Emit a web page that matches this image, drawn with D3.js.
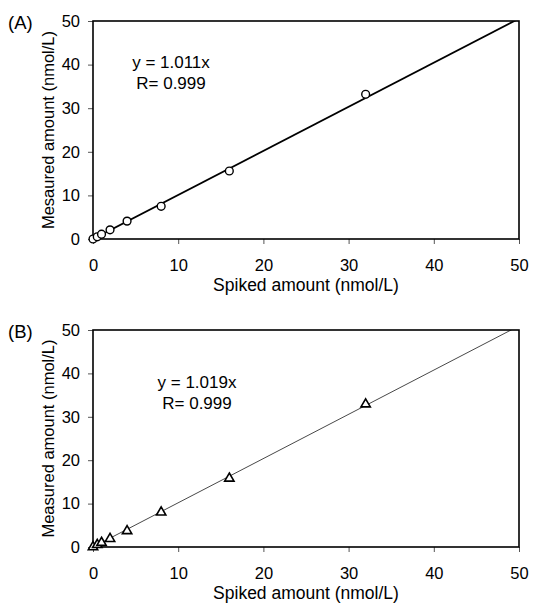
<!DOCTYPE html>
<html><head><meta charset="utf-8">
<script src="https://cdn.jsdelivr.net/npm/d3@7"></script>
<style>body{margin:0;background:#fff}svg{display:block}text{font-family:"Liberation Sans",Arial,sans-serif;fill:#000}</style>
</head><body><div id="chart"></div>
<script>
const spiked = [0, 0.5, 1, 2, 4, 8, 16, 32];
const measuredA = [0, 0.5, 1.1, 2.1, 4.1, 7.5, 15.6, 33.2];
const measuredB = [0, 0.5, 1.0, 1.9, 3.7, 8.0, 15.8, 32.9];
const slopes = [1.011, 1.019];
const eqLabels = [["y = 1.011x", "R= 0.999"], ["y = 1.019x", "R= 0.999"]];
const panelLabels = ["(A)", "(B)"];
const yTitles = ["Mesaured amount (nmol/L)", "Measured amount (nmol/L)"];
const xTitle = "Spiked amount (nmol/L)";
const ticks = [0, 10, 20, 30, 40, 50];

const W = 536, H = 609;
const svg = d3.select("#chart").append("svg").attr("width", W).attr("height", H);

const panels = [
  {top: 21, bottom: 239, data: measuredA, marker: "circle", lw: 1.8, lc: "#000", eqX: 171, eqY: 62},
  {top: 330, bottom: 547, data: measuredB, marker: "triangle", lw: 0.9, lc: "#333", eqX: 197, eqY: 382}
];
const left = 93, right = 519;

panels.forEach((p, i) => {
  const x = d3.scaleLinear().domain([0, 50]).range([left, right]);
  const y = d3.scaleLinear().domain([0, 50]).range([p.bottom, p.top]);
  const g = svg.append("g");
  const clipId = "clip" + i;
  svg.append("clipPath").attr("id", clipId).append("rect")
    .attr("x", left).attr("y", p.top).attr("width", right - left).attr("height", p.bottom - p.top);

  const xa = g.append("g").attr("transform", `translate(0,${p.bottom})`)
    .call(d3.axisBottom(x).tickValues(ticks).tickSize(5).tickPadding(15).tickFormat(d3.format("d")));
  const ya = g.append("g").attr("transform", `translate(${left},0)`)
    .call(d3.axisLeft(y).tickValues(ticks).tickSize(5).tickPadding(8).tickFormat(d3.format("d")));
  [xa, ya].forEach(a => {
    a.select(".domain").remove();
    a.selectAll(".tick line").attr("stroke", "#555").attr("stroke-width", 1);
    a.selectAll("text").attr("font-size", 16.5).attr("font-family", '"Liberation Sans",Arial,sans-serif').attr("fill", "#000");
  });

  // regression line
  g.append("line").attr("clip-path", `url(#${clipId})`)
    .attr("x1", x(0)).attr("y1", y(0)).attr("x2", x(50)).attr("y2", y(50 * slopes[i]))
    .attr("stroke", p.lc).attr("stroke-width", p.lw);

  // frame
  g.append("rect").attr("x", left).attr("y", p.top).attr("width", right - left).attr("height", p.bottom - p.top)
    .attr("fill", "none").attr("stroke", "#000").attr("stroke-width", 1.6);

  // markers
  const pts = spiked.map((s, k) => [s, p.data[k]]);
  if (p.marker === "circle") {
    g.selectAll("circle.pt").data(pts).enter().append("circle")
      .attr("cx", d => x(d[0])).attr("cy", d => y(d[1])).attr("r", 3.9)
      .attr("fill", "#fff").attr("stroke", "#000").attr("stroke-width", 1.4);
  } else {
    const tri = d3.symbol().type(d3.symbolTriangle).size(38);
    g.selectAll("path.pt").data(pts).enter().append("path")
      .attr("d", tri).attr("transform", d => `translate(${x(d[0])},${y(d[1])})`)
      .attr("fill", "#fff").attr("stroke", "#000").attr("stroke-width", 1.6);
  }

  // equation
  g.append("text").attr("x", p.eqX).attr("y", p.eqY).attr("text-anchor", "middle")
    .attr("dominant-baseline", "central").attr("font-size", 17).text(eqLabels[i][0]);
  g.append("text").attr("x", p.eqX).attr("y", p.eqY + 21).attr("text-anchor", "middle")
    .attr("dominant-baseline", "central").attr("font-size", 17).text(eqLabels[i][1]);

  // panel label
  g.append("text").attr("x", 8).attr("y", p.top + 1).attr("dominant-baseline", "central")
    .attr("font-size", 18.5).text(panelLabels[i]);

  // axis titles
  g.append("text").attr("x", (left + right) / 2).attr("y", p.bottom + 46).attr("text-anchor", "middle")
    .attr("dominant-baseline", "central").attr("font-size", 17.5).text(xTitle);
  g.append("text").attr("transform", `translate(48,${(p.top + p.bottom) / 2}) rotate(-90)`)
    .attr("text-anchor", "middle").attr("dominant-baseline", "central").attr("font-size", 16.5).text(yTitles[i]);
});
</script></body></html>
